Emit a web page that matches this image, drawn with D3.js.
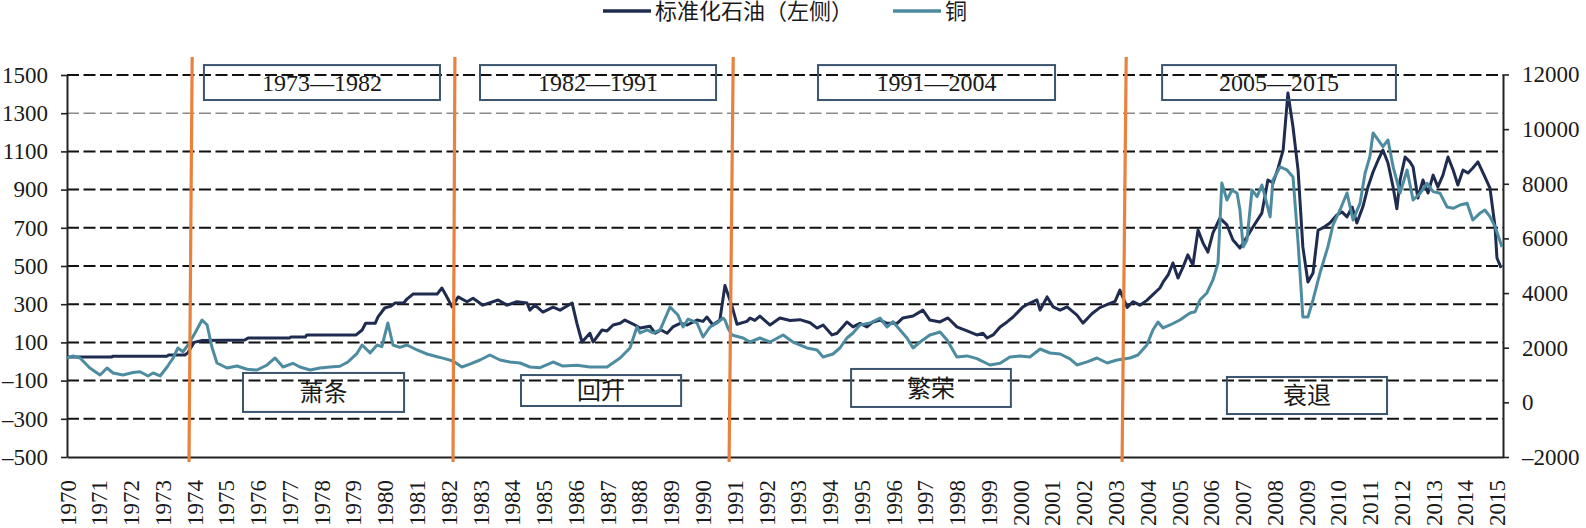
<!DOCTYPE html>
<html>
<head>
<meta charset="utf-8">
<script src="https://cdn.jsdelivr.net/npm/d3@7"></script>
<style>
  body { margin: 0; background: #fff; }
  svg text { font-family: "Liberation Serif", "Noto Sans CJK SC", serif !important; fill: #1a1a1a; }
</style>
</head>
<body>
<svg id="chart" width="1586" height="528"></svg>
<script>
// ---- data ----
const years = [1970,1971,1972,1973,1974,1975,1976,1977,1978,1979,1980,1981,1982,1983,1984,1985,1986,1987,1988,1989,
  1990,1991,1992,1993,1994,1995,1996,1997,1998,1999,2000,2001,2002,2003,2004,2005,2006,2007,2008,2009,2010,2011,2012,2013,2014,2015];
const leftTicks = [-500,-300,-100,100,300,500,700,900,1100,1300,1500];
const rightTicks = [-2000,0,2000,4000,6000,8000,10000,12000];

const seriesNames = ["标准化石油（左侧）", "铜"];

// [year, standardized oil]
const oil = [
  [1970.00,23],[1971.40,23],[1971.45,28],[1973.15,28],[1973.20,34],[1973.71,34],[1973.80,45],[1974.00,100],[1974.19,107],
  [1974.25,110],[1975.60,112],[1975.70,123],[1977.00,123],[1977.05,128],[1977.50,128],[1977.55,139],[1979.10,139],
  [1979.29,165],[1979.40,200],[1979.70,200],[1979.79,234],[1980.00,280],[1980.20,290],[1980.32,306],[1980.60,306],
  [1980.70,327],[1980.89,353],[1981.65,353],[1981.80,385],[1981.95,340],[1982.12,286],[1982.31,338],[1982.59,313],
  [1982.78,331],[1983.09,295],[1983.57,322],[1983.85,295],[1984.16,313],[1984.48,306],[1984.57,269],[1984.73,295],
  [1984.98,259],[1985.30,285],[1985.52,269],[1985.90,306],[1986.05,200],[1986.21,102],[1986.46,148],[1986.56,102],
  [1986.84,165],[1987.00,160],[1987.19,191],[1987.41,200],[1987.56,217],[1987.82,196],[1988.04,175],[1988.35,185],
  [1988.51,148],[1988.70,165],[1988.89,148],[1989.07,181],[1989.30,200],[1989.52,191],[1989.83,217],[1990.02,210],
  [1990.14,233],[1990.33,191],[1990.55,217],[1990.71,398],[1990.93,290],[1991.09,195],[1991.40,210],[1991.50,227],
  [1991.65,215],[1991.81,238],[1992.13,191],[1992.44,228],[1992.76,215],[1993.07,219],[1993.39,203],[1993.61,175],
  [1993.80,191],[1994.08,139],[1994.24,148],[1994.55,207],[1994.74,181],[1994.96,200],[1995.18,181],[1995.37,207],
  [1995.59,217],[1995.81,200],[1996.13,200],[1996.31,228],[1996.63,238],[1996.94,269],[1997.16,217],[1997.48,207],
  [1997.73,228],[1998.01,181],[1998.33,160],[1998.64,139],[1998.83,148],[1998.96,123],[1999.15,139],[1999.37,181],
  [1999.59,207],[1999.78,233],[2000.09,286],[2000.31,306],[2000.53,322],[2000.63,269],[2000.85,338],[2001.04,286],
  [2001.26,269],[2001.48,286],[2001.79,243],[2001.98,201],[2002.26,250],[2002.51,282],[2002.77,300],[2002.99,315],
  [2003.14,374],[2003.37,283],[2003.55,313],[2003.77,295],[2003.99,320],[2004.18,350],[2004.40,385],[2004.50,415],
  [2004.66,453],[2004.81,516],[2004.97,437],[2005.13,495],[2005.28,558],[2005.44,505],[2005.60,688],[2005.76,620],
  [2005.91,573],[2006.07,673],[2006.29,751],[2006.51,715],[2006.70,636],[2006.92,594],[2007.14,652],[2007.33,704],
  [2007.61,777],[2007.80,950],[2007.96,935],[2008.12,1012],[2008.28,1107],[2008.43,1406],[2008.59,1228],[2008.75,1002],
  [2008.90,600],[2009.06,416],[2009.22,463],[2009.38,688],[2009.53,699],[2009.75,725],[2009.97,767],[2010.13,783],
  [2010.29,757],[2010.45,809],[2010.60,725],[2010.79,810],[2010.95,914],[2011.11,992],[2011.27,1055],[2011.42,1107],
  [2011.58,1039],[2011.74,914],[2011.86,800],[2011.96,950],[2012.12,1071],[2012.27,1045],[2012.37,1018],[2012.52,856],
  [2012.68,950],[2012.84,882],[2013.00,976],[2013.15,914],[2013.31,976],[2013.47,1071],[2013.63,1003],[2013.78,924],
  [2013.94,1002],[2014.10,987],[2014.25,1013],[2014.41,1045],[2014.63,966],[2014.79,908],[2014.95,704],[2015.01,542],
  [2015.14,490]
];

// [year, copper price] (right axis)
const copper = [
  [1970.00,1624],[1970.19,1697],[1970.41,1624],[1970.72,1258],[1971.04,1001],[1971.26,1258],[1971.45,1075],[1971.76,1001],
  [1972.08,1090],[1972.30,1120],[1972.55,965],[1972.71,1075],[1972.93,965],[1973.15,1294],[1973.34,1624],[1973.49,1990],
  [1973.65,1853],[1973.81,2100],[1974.03,2539],[1974.25,3015],[1974.41,2832],[1974.56,2026],[1974.72,1441],[1975.04,1258],
  [1975.35,1331],[1975.67,1210],[1975.98,1185],[1976.30,1368],[1976.55,1624],[1976.80,1294],[1977.11,1430],[1977.33,1294],
  [1977.65,1185],[1977.96,1258],[1978.28,1294],[1978.59,1320],[1978.84,1477],[1979.13,1795],[1979.29,2100],[1979.54,1810],
  [1979.76,2100],[1979.91,2037],[1980.10,2905],[1980.26,2100],[1980.48,2014],[1980.70,2100],[1981.02,1917],[1981.33,1770],
  [1981.65,1672],[1981.83,1620],[1982.15,1514],[1982.43,1294],[1982.68,1400],[1983.00,1550],[1983.31,1734],[1983.63,1550],
  [1983.94,1477],[1984.26,1441],[1984.57,1294],[1984.89,1270],[1985.30,1477],[1985.61,1330],[1986.05,1360],[1986.46,1294],
  [1987.00,1294],[1987.41,1624],[1987.72,1990],[1987.94,2758],[1988.04,2540],[1988.26,2650],[1988.45,2539],[1988.67,2650],
  [1988.98,3490],[1989.23,3198],[1989.39,2758],[1989.55,3050],[1989.83,2905],[1990.02,2392],[1990.24,2758],[1990.46,2905],
  [1990.65,3088],[1990.71,3015],[1990.81,2700],[1990.93,2466],[1991.28,2356],[1991.50,2209],[1991.81,2356],[1992.13,2209],
  [1992.54,2466],[1992.85,2209],[1993.29,1990],[1993.61,1917],[1993.80,1660],[1994.11,1770],[1994.33,1990],[1994.55,2356],
  [1994.74,2539],[1994.96,2832],[1995.28,2905],[1995.59,3088],[1995.81,2758],[1996.00,2953],[1996.22,2648],[1996.44,2356],
  [1996.63,1990],[1996.85,2209],[1997.16,2466],[1997.48,2575],[1997.70,2283],[1998.01,1660],[1998.33,1700],[1998.64,1600],
  [1999.05,1368],[1999.37,1430],[1999.68,1660],[2000.00,1700],[2000.31,1660],[2000.63,1953],[2000.94,1807],[2001.26,1770],
  [2001.57,1590],[2001.79,1368],[2002.11,1480],[2002.42,1624],[2002.74,1441],[2003.05,1550],[2003.46,1624],[2003.71,1734],
  [2003.99,2100],[2004.18,2648],[2004.34,2941],[2004.50,2722],[2004.72,2832],[2005.03,3015],[2005.35,3271],[2005.51,3318],
  [2005.66,3747],[2005.88,4003],[2006.07,4479],[2006.23,5101],[2006.35,8029],[2006.51,7407],[2006.67,7773],[2006.83,7651],
  [2006.92,7041],[2007.02,5687],[2007.14,5943],[2007.30,7773],[2007.46,7529],[2007.61,7956],[2007.71,7529],[2007.87,6785],
  [2007.96,8139],[2008.18,8615],[2008.40,8505],[2008.59,8249],[2008.75,5833],[2008.90,3124],[2009.06,3124],[2009.22,3747],
  [2009.44,4735],[2009.69,5700],[2009.85,6492],[2010.07,7041],[2010.29,7663],[2010.48,6675],[2010.70,7285],[2010.86,8395],
  [2011.01,8992],[2011.11,9859],[2011.27,9603],[2011.42,9359],[2011.58,9603],[2011.74,8627],[2011.96,7663],[2012.18,8505],
  [2012.37,7407],[2012.59,7651],[2012.81,8017],[2013.00,7712],[2013.22,7651],[2013.44,7150],[2013.63,7102],[2013.85,7224],
  [2014.07,7285],[2014.25,6675],[2014.47,6919],[2014.63,7041],[2014.79,6797],[2014.95,6431],[2015.17,5687]
];

// cycle annotations
const periodLabels = ["1973—1982", "1982—1991", "1991—2004", "2005—2015"];
const phaseLabels = ["萧条", "回升", "繁荣", "衰退"];
const dividerYears = [[1973.84, 1973.94], [1982.15, 1982.21], [1990.84, 1990.97], [2003.21, 2003.34]]; // [bottom, top]

// ---- layout (in axis units) ----
const periodBoxes = [[1974.31, 1981.74], [1983.00, 1990.43], [1993.64, 2001.10], [2004.47, 2011.83]];
const phaseBoxes = [[1975.54, 1980.61, -60, -264], [1984.29, 1989.33, -71, -233], [1994.68, 1999.71, -39, -238], [2006.51, 2011.55, -81, -275]];

const colors = { oil: "#1f2c50", copper: "#4d8ca0", divider: "#e8823e", box: "#3b556e", grid: "#111" };
const serif = '"Liberation Serif", "Noto Sans CJK SC", serif';

const svg = d3.select("#chart");
const plot = { left: 67, right: 1503, top: 75, bottom: 457 };

const x = d3.scaleLinear().domain([1970, 2015.2]).range([plot.left, plot.right]);
const yL = d3.scaleLinear().domain([-500, 1500]).range([plot.bottom, plot.top]);
const yR = d3.scaleLinear().domain([-2000, 12000]).range([plot.bottom, 74.5]);

const fmt = d => String(d).replace("-", "–");

// gridlines
svg.append("g").selectAll("line")
  .data(leftTicks.filter(d => d > -500))
  .join("line")
  .attr("x1", plot.left).attr("x2", plot.right)
  .attr("y1", d => yL(d)).attr("y2", d => yL(d))
  .attr("stroke", d => d === 1300 ? "#8a8a8a" : colors.grid)
  .attr("stroke-width", d => d === 1300 ? 1.4 : 2)
  .attr("stroke-dasharray", "12,4.5");

// left axis
const gL = svg.append("g").attr("transform", `translate(${plot.left},0)`)
  .call(d3.axisLeft(yL).tickValues(leftTicks).tickSize(6).tickSizeOuter(0).tickPadding(13).tickFormat(fmt));
// right axis
const gR = svg.append("g").attr("transform", `translate(${plot.right},0)`)
  .call(d3.axisRight(yR).tickValues(rightTicks).tickSize(6).tickSizeOuter(0).tickPadding(13).tickFormat(fmt));
// bottom axis
const gX = svg.append("g").attr("transform", `translate(0,${plot.bottom})`)
  .call(d3.axisBottom(x).tickValues(years).tickSize(0).tickSizeOuter(0).tickFormat(d3.format("d")));

[gL, gR, gX].forEach(g => {
  g.attr("font-family", serif).attr("font-size", 23);
  g.select(".domain").attr("stroke", "#222").attr("stroke-width", 2);
  g.selectAll(".tick line").attr("stroke", "#222").attr("stroke-width", 1.6);
  g.selectAll("text").attr("fill", "#1a1a1a");
});
gX.selectAll(".tick text")
  .attr("transform", "rotate(-90)")
  .attr("text-anchor", "end")
  .attr("x", -23).attr("y", 0).attr("dy", "0.35em");

// series lines
const lineL = d3.line().x(d => x(d[0])).y(d => yL(d[1]));
const lineR = d3.line().x(d => x(d[0])).y(d => yR(d[1]));

svg.append("path").datum(oil)
  .attr("fill", "none").attr("stroke", colors.oil).attr("stroke-width", 3)
  .attr("stroke-linejoin", "round").attr("d", lineL);
svg.append("path").datum(copper)
  .attr("fill", "none").attr("stroke", colors.copper).attr("stroke-width", 3)
  .attr("stroke-linejoin", "round").attr("d", lineR);

// orange cycle dividers
svg.append("g").selectAll("line")
  .data(dividerYears)
  .join("line")
  .attr("x1", d => x(d[0])).attr("y1", yL(-526))
  .attr("x2", d => x(d[1])).attr("y2", yL(1594))
  .attr("stroke", colors.divider).attr("stroke-width", 3.2);

// period boxes (top)
const annot = svg.append("g").attr("font-family", serif);
periodBoxes.forEach((b, i) => {
  const x0 = x(b[0]), x1 = x(b[1]), y0 = yL(1552), y1 = yL(1369);
  annot.append("rect").attr("x", x0).attr("y", y0).attr("width", x1 - x0).attr("height", y1 - y0)
    .attr("fill", "none").attr("stroke", colors.box).attr("stroke-width", 2);
  annot.append("text").attr("x", (x0 + x1) / 2).attr("y", (y0 + y1) / 2).attr("dy", "0.35em")
    .attr("text-anchor", "middle").attr("font-size", 24).text(periodLabels[i]);
});

// phase boxes (bottom)
phaseBoxes.forEach((b, i) => {
  const x0 = x(b[0]), x1 = x(b[1]), y0 = yL(b[2]), y1 = yL(b[3]);
  annot.append("rect").attr("x", x0).attr("y", y0).attr("width", x1 - x0).attr("height", y1 - y0)
    .attr("fill", "none").attr("stroke", colors.box).attr("stroke-width", 2);
  annot.append("text").attr("x", (x0 + x1) / 2).attr("y", (y0 + y1) / 2).attr("dy", "0.36em")
    .attr("text-anchor", "middle").attr("font-size", 24).text(phaseLabels[i]);
});

// legend
const legend = svg.append("g").attr("font-family", serif);
const legendItems = [
  { name: seriesNames[0], color: colors.oil, x: 603 },
  { name: seriesNames[1], color: colors.copper, x: 893 }
];
legendItems.forEach(it => {
  legend.append("line").attr("x1", it.x).attr("x2", it.x + 48).attr("y1", 11).attr("y2", 11)
    .attr("stroke", it.color).attr("stroke-width", 3.5);
  legend.append("text").attr("x", it.x + 52).attr("y", 11).attr("dy", "0.36em")
    .attr("font-size", 22).text(it.name);
});
</script>
</body>
</html>
